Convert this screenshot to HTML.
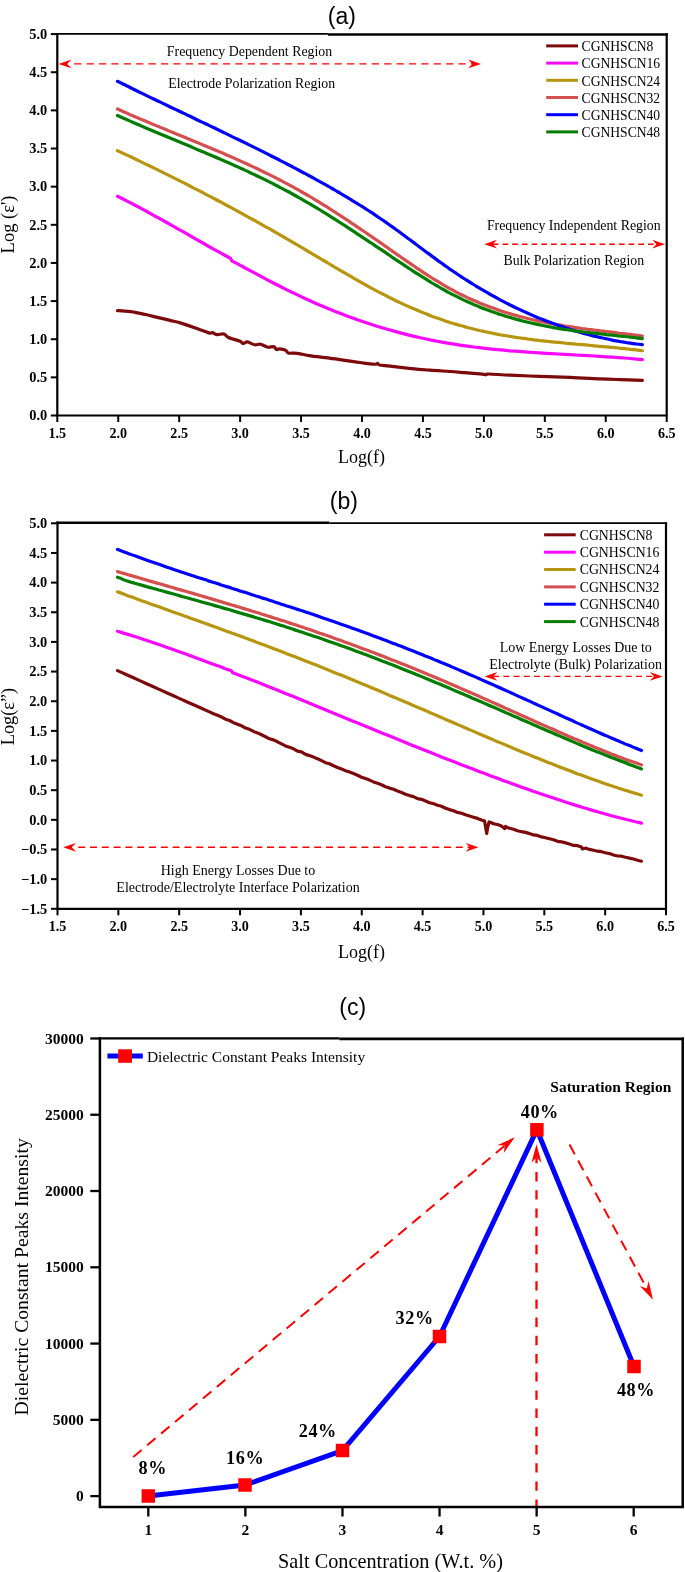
<!DOCTYPE html>
<html><head><meta charset="utf-8"><title>Dielectric plots</title>
<style>html,body{margin:0;padding:0;background:#fff;}svg{display:block;will-change:transform;}text{fill:#000;}</style>
</head><body>
<svg width="685" height="1572" viewBox="0 0 685 1572">
<rect x="0" y="0" width="685" height="1572" fill="#ffffff"/>
<g id="chart-a">
<text x="341.8" y="23.8" font-family='"Liberation Sans", sans-serif' font-size="23" text-anchor="middle">(a)</text>
<path d="M117.5,310.7 C118.2,310.7 119.1,310.6 122.0,310.9 C124.9,311.2 130.8,311.6 135.0,312.3 C139.2,313.0 143.1,313.9 147.0,314.8 C150.9,315.7 154.6,316.7 158.4,317.6 C162.2,318.5 166.1,319.4 170.0,320.4 C173.9,321.4 176.9,321.9 181.8,323.4 C186.7,324.9 194.7,327.8 199.3,329.4 C203.9,331.0 207.3,332.6 209.5,333.1 C211.7,333.6 211.2,332.4 212.4,332.6 C213.6,332.9 214.9,334.4 216.8,334.6 C218.8,334.8 222.2,333.5 224.1,334.0 C226.0,334.5 225.8,336.3 228.5,337.5 C231.2,338.7 237.7,340.3 240.1,341.3 C242.5,342.3 241.8,343.3 243.0,343.4 C244.2,343.5 245.5,341.7 247.4,341.9 C249.3,342.1 252.5,344.4 254.7,344.8 C256.9,345.2 258.4,343.8 260.6,344.2 C262.8,344.6 265.7,346.8 267.9,347.2 C270.1,347.6 272.2,346.2 273.7,346.6 C275.1,347.0 275.6,349.1 276.6,349.5 C277.6,349.9 278.1,348.8 279.6,348.9 C281.1,349.0 283.9,349.4 285.4,350.1 C286.8,350.8 286.9,352.5 288.3,353.0 C289.7,353.5 292.1,353.1 294.0,353.2 C295.9,353.3 297.5,353.4 300.0,353.8 C302.5,354.2 305.4,355.0 309.2,355.6 C313.0,356.2 318.1,356.8 323.0,357.4 C327.9,358.0 333.6,358.7 338.4,359.4 C343.2,360.1 348.4,360.9 352.0,361.4 C355.6,361.9 357.0,362.1 360.0,362.5 C363.0,362.9 367.3,363.6 370.0,363.9 C372.7,364.2 374.7,364.3 376.0,364.2 C377.3,364.1 377.0,363.3 377.6,363.4 C378.2,363.5 377.3,364.5 379.4,365.0 C381.5,365.5 384.7,365.6 390.0,366.2 C395.3,366.8 404.7,367.9 411.4,368.6 C418.1,369.3 423.6,369.7 430.0,370.2 C436.4,370.7 444.2,371.1 450.0,371.5 C455.8,371.9 460.0,372.3 465.0,372.7 C470.0,373.1 476.5,373.5 480.0,373.8 C483.5,374.1 484.5,374.6 486.0,374.6 C487.5,374.6 485.0,373.9 489.0,374.0 C493.0,374.1 501.5,374.8 510.0,375.2 C518.5,375.6 530.0,376.0 540.0,376.4 C550.0,376.8 560.0,377.0 570.0,377.4 C580.0,377.8 591.7,378.5 600.0,378.9 C608.3,379.3 612.9,379.4 620.0,379.6 C627.1,379.8 638.7,380.2 642.4,380.3" fill="none" stroke="#7d0a0a" stroke-width="3.2" stroke-linecap="round" stroke-linejoin="round"/>
<path d="M117.5,196.3 L123.5,199.3 L129.6,202.4 L135.6,205.5 L141.6,208.7 L147.7,212.0 L153.7,215.3 L159.7,218.6 L165.8,222.0 L171.8,225.4 L177.8,228.8 L183.9,232.2 L189.9,235.7 L195.9,239.1 L202.0,242.5 L208.0,246.0 L214.0,249.3 L220.1,252.7 L226.1,256.0 L229.8,258.0 L230.6,258.4 L231.6,260.7 L232.6,261.3 L238.2,264.2 L244.2,267.5 L250.2,270.7 L256.3,273.9 L262.3,277.1 L268.3,280.3 L274.4,283.5 L280.4,286.5 L286.4,289.6 L292.5,292.5 L298.5,295.4 L304.5,298.3 L310.6,301.0 L316.6,303.7 L322.6,306.3 L328.7,308.8 L334.7,311.2 L340.7,313.6 L346.8,315.9 L352.8,318.1 L358.8,320.2 L364.9,322.3 L370.9,324.2 L376.9,326.2 L383.0,328.0 L389.0,329.7 L395.0,331.4 L401.1,333.1 L407.1,334.6 L413.1,336.1 L419.2,337.5 L425.2,338.8 L431.2,340.1 L437.3,341.3 L443.3,342.4 L449.3,343.4 L455.4,344.4 L461.4,345.3 L467.4,346.2 L473.5,347.0 L479.5,347.7 L485.5,348.4 L491.6,349.1 L497.6,349.7 L503.6,350.2 L509.7,350.8 L515.7,351.2 L521.7,351.7 L527.8,352.1 L533.8,352.5 L539.8,352.9 L545.9,353.3 L551.9,353.6 L557.9,354.0 L564.0,354.3 L570.0,354.6 L576.0,355.0 L582.1,355.3 L588.1,355.6 L594.1,356.0 L600.2,356.4 L606.2,356.8 L612.2,357.2 L618.3,357.6 L624.3,358.0 L630.3,358.5 L636.4,359.1 L642.4,359.6" fill="none" stroke="#f808fc" stroke-width="3.2" stroke-linecap="round" stroke-linejoin="round"/>
<path d="M117.5,150.7 C118.5,151.1 121.5,152.5 123.5,153.5 C125.5,154.4 127.6,155.4 129.6,156.3 C131.6,157.3 133.6,158.2 135.6,159.2 C137.6,160.2 139.6,161.1 141.6,162.1 C143.6,163.0 145.7,164.0 147.7,165.0 C149.7,166.0 151.7,166.9 153.7,167.9 C155.7,168.9 157.7,169.9 159.7,170.9 C161.7,171.9 163.8,172.9 165.8,173.9 C167.8,174.9 169.8,175.9 171.8,176.9 C173.8,177.9 175.8,178.9 177.8,179.9 C179.8,180.9 181.9,181.9 183.9,182.9 C185.9,184.0 187.9,185.0 189.9,186.0 C191.9,187.0 193.9,188.1 195.9,189.1 C197.9,190.1 200.0,191.2 202.0,192.2 C204.0,193.3 206.0,194.3 208.0,195.4 C210.0,196.4 212.0,197.5 214.0,198.5 C216.0,199.6 218.1,200.7 220.1,201.7 C222.1,202.8 224.1,203.9 226.1,205.0 C228.1,206.0 230.1,207.1 232.1,208.2 C234.1,209.3 236.2,210.4 238.2,211.5 C240.2,212.6 242.2,213.7 244.2,214.8 C246.2,215.9 248.2,217.0 250.2,218.1 C252.2,219.2 254.3,220.3 256.3,221.4 C258.3,222.6 260.3,223.7 262.3,224.8 C264.3,226.0 266.3,227.1 268.3,228.2 C270.3,229.4 272.4,230.5 274.4,231.6 C276.4,232.8 278.4,233.9 280.4,235.1 C282.4,236.3 284.4,237.4 286.4,238.6 C288.4,239.7 290.5,240.9 292.5,242.1 C294.5,243.3 296.5,244.4 298.5,245.6 C300.5,246.8 302.5,248.0 304.5,249.2 C306.5,250.4 308.6,251.6 310.6,252.8 C312.6,254.0 314.6,255.2 316.6,256.4 C318.6,257.6 320.6,258.8 322.6,260.0 C324.6,261.1 326.7,262.3 328.7,263.5 C330.7,264.7 332.7,265.9 334.7,267.1 C336.7,268.3 338.7,269.5 340.7,270.7 C342.7,271.9 344.8,273.0 346.8,274.2 C348.8,275.4 350.8,276.5 352.8,277.7 C354.8,278.8 356.8,280.0 358.8,281.1 C360.8,282.3 362.9,283.4 364.9,284.5 C366.9,285.6 368.9,286.7 370.9,287.8 C372.9,288.9 374.9,290.0 376.9,291.1 C378.9,292.1 381.0,293.2 383.0,294.2 C385.0,295.3 387.0,296.3 389.0,297.3 C391.0,298.3 393.0,299.3 395.0,300.3 C397.0,301.3 399.1,302.2 401.1,303.1 C403.1,304.1 405.1,305.0 407.1,305.9 C409.1,306.8 411.1,307.7 413.1,308.6 C415.1,309.4 417.2,310.3 419.2,311.1 C421.2,312.0 423.2,312.8 425.2,313.6 C427.2,314.4 429.2,315.2 431.2,315.9 C433.2,316.7 435.3,317.4 437.3,318.1 C439.3,318.8 441.3,319.6 443.3,320.2 C445.3,320.9 447.3,321.6 449.3,322.2 C451.3,322.9 453.4,323.5 455.4,324.1 C457.4,324.7 459.4,325.3 461.4,325.8 C463.4,326.4 465.4,326.9 467.4,327.5 C469.4,328.0 471.5,328.5 473.5,329.0 C475.5,329.5 477.5,330.0 479.5,330.5 C481.5,330.9 483.5,331.4 485.5,331.8 C487.5,332.2 489.6,332.6 491.6,333.0 C493.6,333.5 495.6,333.8 497.6,334.2 C499.6,334.6 501.6,335.0 503.6,335.3 C505.6,335.7 507.7,336.0 509.7,336.3 C511.7,336.7 513.7,337.0 515.7,337.3 C517.7,337.6 519.7,337.9 521.7,338.2 C523.7,338.4 525.8,338.7 527.8,339.0 C529.8,339.3 531.8,339.5 533.8,339.8 C535.8,340.0 537.8,340.3 539.8,340.5 C541.8,340.7 543.9,341.0 545.9,341.2 C547.9,341.4 549.9,341.6 551.9,341.8 C553.9,342.0 555.9,342.2 557.9,342.4 C559.9,342.6 562.0,342.8 564.0,343.0 C566.0,343.2 568.0,343.4 570.0,343.6 C572.0,343.8 574.0,344.0 576.0,344.2 C578.0,344.3 580.1,344.5 582.1,344.7 C584.1,344.9 586.1,345.1 588.1,345.2 C590.1,345.4 592.1,345.6 594.1,345.8 C596.1,346.0 598.2,346.1 600.2,346.3 C602.2,346.5 604.2,346.7 606.2,346.9 C608.2,347.1 610.2,347.2 612.2,347.4 C614.2,347.6 616.3,347.8 618.3,348.0 C620.3,348.2 622.3,348.4 624.3,348.6 C626.3,348.8 628.3,349.0 630.3,349.3 C632.3,349.5 634.4,349.7 636.4,349.9 C638.4,350.2 641.4,350.5 642.4,350.7" fill="none" stroke="#b7950f" stroke-width="3.2" stroke-linecap="round" stroke-linejoin="round"/>
<path d="M117.5,109.0 C118.5,109.5 121.5,110.8 123.5,111.7 C125.5,112.6 127.6,113.5 129.6,114.4 C131.6,115.2 133.6,116.1 135.6,117.0 C137.6,117.8 139.6,118.7 141.6,119.6 C143.6,120.4 145.7,121.3 147.7,122.1 C149.7,122.9 151.7,123.8 153.7,124.6 C155.7,125.5 157.7,126.3 159.7,127.1 C161.7,128.0 163.8,128.8 165.8,129.6 C167.8,130.4 169.8,131.3 171.8,132.1 C173.8,132.9 175.8,133.7 177.8,134.6 C179.8,135.4 181.9,136.2 183.9,137.0 C185.9,137.8 187.9,138.7 189.9,139.5 C191.9,140.3 193.9,141.1 195.9,142.0 C197.9,142.8 200.0,143.6 202.0,144.5 C204.0,145.3 206.0,146.1 208.0,147.0 C210.0,147.8 212.0,148.7 214.0,149.5 C216.0,150.4 218.1,151.2 220.1,152.1 C222.1,152.9 224.1,153.8 226.1,154.7 C228.1,155.5 230.1,156.4 232.1,157.3 C234.1,158.2 236.2,159.1 238.2,160.0 C240.2,160.9 242.2,161.8 244.2,162.7 C246.2,163.6 248.2,164.5 250.2,165.5 C252.2,166.4 254.3,167.3 256.3,168.3 C258.3,169.2 260.3,170.2 262.3,171.2 C264.3,172.1 266.3,173.1 268.3,174.1 C270.3,175.1 272.4,176.1 274.4,177.1 C276.4,178.2 278.4,179.2 280.4,180.2 C282.4,181.3 284.4,182.3 286.4,183.4 C288.4,184.5 290.5,185.6 292.5,186.7 C294.5,187.8 296.5,188.9 298.5,190.0 C300.5,191.2 302.5,192.3 304.5,193.5 C306.5,194.6 308.6,195.8 310.6,197.0 C312.6,198.2 314.6,199.4 316.6,200.6 C318.6,201.9 320.6,203.1 322.6,204.3 C324.6,205.6 326.7,206.8 328.7,208.1 C330.7,209.4 332.7,210.7 334.7,212.0 C336.7,213.3 338.7,214.6 340.7,215.9 C342.7,217.2 344.8,218.5 346.8,219.8 C348.8,221.2 350.8,222.5 352.8,223.9 C354.8,225.2 356.8,226.6 358.8,227.9 C360.8,229.3 362.9,230.7 364.9,232.0 C366.9,233.4 368.9,234.8 370.9,236.2 C372.9,237.5 374.9,238.9 376.9,240.3 C378.9,241.7 381.0,243.1 383.0,244.5 C385.0,245.9 387.0,247.3 389.0,248.7 C391.0,250.1 393.0,251.6 395.0,253.0 C397.0,254.4 399.1,255.8 401.1,257.2 C403.1,258.6 405.1,260.0 407.1,261.4 C409.1,262.8 411.1,264.1 413.1,265.5 C415.1,266.9 417.2,268.2 419.2,269.6 C421.2,270.9 423.2,272.3 425.2,273.6 C427.2,274.9 429.2,276.2 431.2,277.5 C433.2,278.7 435.3,280.0 437.3,281.2 C439.3,282.5 441.3,283.7 443.3,284.9 C445.3,286.0 447.3,287.2 449.3,288.3 C451.3,289.4 453.4,290.5 455.4,291.6 C457.4,292.6 459.4,293.7 461.4,294.7 C463.4,295.7 465.4,296.6 467.4,297.6 C469.4,298.5 471.5,299.4 473.5,300.3 C475.5,301.2 477.5,302.1 479.5,302.9 C481.5,303.7 483.5,304.5 485.5,305.3 C487.5,306.1 489.6,306.9 491.6,307.6 C493.6,308.3 495.6,309.1 497.6,309.7 C499.6,310.4 501.6,311.1 503.6,311.7 C505.6,312.4 507.7,313.0 509.7,313.6 C511.7,314.2 513.7,314.8 515.7,315.4 C517.7,315.9 519.7,316.5 521.7,317.0 C523.7,317.5 525.8,318.0 527.8,318.5 C529.8,319.0 531.8,319.5 533.8,320.0 C535.8,320.4 537.8,320.9 539.8,321.3 C541.8,321.7 543.9,322.1 545.9,322.5 C547.9,322.9 549.9,323.3 551.9,323.7 C553.9,324.1 555.9,324.4 557.9,324.8 C559.9,325.1 562.0,325.4 564.0,325.8 C566.0,326.1 568.0,326.4 570.0,326.7 C572.0,327.0 574.0,327.3 576.0,327.6 C578.0,327.9 580.1,328.2 582.1,328.5 C584.1,328.7 586.1,329.0 588.1,329.3 C590.1,329.5 592.1,329.8 594.1,330.0 C596.1,330.3 598.2,330.5 600.2,330.8 C602.2,331.0 604.2,331.3 606.2,331.5 C608.2,331.8 610.2,332.0 612.2,332.2 C614.2,332.5 616.3,332.7 618.3,333.0 C620.3,333.2 622.3,333.4 624.3,333.7 C626.3,333.9 628.3,334.2 630.3,334.4 C632.3,334.7 634.4,334.9 636.4,335.2 C638.4,335.4 641.4,335.8 642.4,336.0" fill="none" stroke="#d4504f" stroke-width="3.2" stroke-linecap="round" stroke-linejoin="round"/>
<path d="M117.5,81.3 C118.5,81.8 121.5,83.3 123.5,84.3 C125.5,85.3 127.6,86.2 129.6,87.2 C131.6,88.2 133.6,89.2 135.6,90.2 C137.6,91.2 139.6,92.2 141.6,93.1 C143.6,94.1 145.7,95.1 147.7,96.1 C149.7,97.0 151.7,98.0 153.7,99.0 C155.7,100.0 157.7,100.9 159.7,101.9 C161.7,102.9 163.8,103.8 165.8,104.8 C167.8,105.7 169.8,106.7 171.8,107.7 C173.8,108.6 175.8,109.6 177.8,110.5 C179.8,111.5 181.9,112.5 183.9,113.4 C185.9,114.4 187.9,115.3 189.9,116.3 C191.9,117.3 193.9,118.2 195.9,119.2 C197.9,120.1 200.0,121.1 202.0,122.1 C204.0,123.0 206.0,124.0 208.0,124.9 C210.0,125.9 212.0,126.9 214.0,127.8 C216.0,128.8 218.1,129.8 220.1,130.7 C222.1,131.7 224.1,132.7 226.1,133.6 C228.1,134.6 230.1,135.6 232.1,136.6 C234.1,137.5 236.2,138.5 238.2,139.5 C240.2,140.5 242.2,141.4 244.2,142.4 C246.2,143.4 248.2,144.4 250.2,145.4 C252.2,146.4 254.3,147.4 256.3,148.4 C258.3,149.4 260.3,150.4 262.3,151.4 C264.3,152.4 266.3,153.4 268.3,154.4 C270.3,155.4 272.4,156.5 274.4,157.5 C276.4,158.5 278.4,159.5 280.4,160.6 C282.4,161.6 284.4,162.6 286.4,163.7 C288.4,164.7 290.5,165.8 292.5,166.8 C294.5,167.9 296.5,168.9 298.5,170.0 C300.5,171.1 302.5,172.2 304.5,173.2 C306.5,174.3 308.6,175.4 310.6,176.5 C312.6,177.6 314.6,178.7 316.6,179.8 C318.6,180.9 320.6,182.0 322.6,183.1 C324.6,184.3 326.7,185.4 328.7,186.5 C330.7,187.7 332.7,188.8 334.7,190.0 C336.7,191.2 338.7,192.3 340.7,193.5 C342.7,194.7 344.8,195.9 346.8,197.1 C348.8,198.3 350.8,199.5 352.8,200.8 C354.8,202.0 356.8,203.2 358.8,204.5 C360.8,205.8 362.9,207.0 364.9,208.3 C366.9,209.6 368.9,210.9 370.9,212.2 C372.9,213.5 374.9,214.9 376.9,216.2 C378.9,217.6 381.0,218.9 383.0,220.3 C385.0,221.7 387.0,223.1 389.0,224.5 C391.0,225.9 393.0,227.4 395.0,228.8 C397.0,230.3 399.1,231.7 401.1,233.2 C403.1,234.7 405.1,236.2 407.1,237.7 C409.1,239.1 411.1,240.6 413.1,242.1 C415.1,243.6 417.2,245.1 419.2,246.7 C421.2,248.2 423.2,249.7 425.2,251.2 C427.2,252.7 429.2,254.1 431.2,255.6 C433.2,257.1 435.3,258.6 437.3,260.1 C439.3,261.5 441.3,263.0 443.3,264.4 C445.3,265.8 447.3,267.3 449.3,268.7 C451.3,270.1 453.4,271.4 455.4,272.8 C457.4,274.2 459.4,275.5 461.4,276.8 C463.4,278.1 465.4,279.4 467.4,280.7 C469.4,282.0 471.5,283.3 473.5,284.5 C475.5,285.7 477.5,287.0 479.5,288.2 C481.5,289.4 483.5,290.5 485.5,291.7 C487.5,292.9 489.6,294.0 491.6,295.1 C493.6,296.2 495.6,297.3 497.6,298.4 C499.6,299.5 501.6,300.6 503.6,301.6 C505.6,302.7 507.7,303.7 509.7,304.7 C511.7,305.7 513.7,306.7 515.7,307.7 C517.7,308.6 519.7,309.6 521.7,310.5 C523.7,311.4 525.8,312.3 527.8,313.2 C529.8,314.1 531.8,315.0 533.8,315.9 C535.8,316.7 537.8,317.5 539.8,318.4 C541.8,319.2 543.9,320.0 545.9,320.8 C547.9,321.5 549.9,322.3 551.9,323.1 C553.9,323.8 555.9,324.5 557.9,325.2 C559.9,325.9 562.0,326.6 564.0,327.3 C566.0,328.0 568.0,328.6 570.0,329.3 C572.0,329.9 574.0,330.5 576.0,331.1 C578.0,331.7 580.1,332.3 582.1,332.9 C584.1,333.5 586.1,334.0 588.1,334.5 C590.1,335.1 592.1,335.6 594.1,336.1 C596.1,336.6 598.2,337.0 600.2,337.5 C602.2,338.0 604.2,338.4 606.2,338.8 C608.2,339.3 610.2,339.7 612.2,340.1 C614.2,340.5 616.3,340.9 618.3,341.2 C620.3,341.6 622.3,341.9 624.3,342.2 C626.3,342.6 628.3,342.9 630.3,343.2 C632.3,343.5 634.4,343.7 636.4,344.0 C638.4,344.3 641.4,344.6 642.4,344.7" fill="none" stroke="#0000ff" stroke-width="3.2" stroke-linecap="round" stroke-linejoin="round"/>
<path d="M117.5,115.5 C118.5,115.9 121.5,117.3 123.5,118.2 C125.5,119.1 127.6,120.0 129.6,120.9 C131.6,121.8 133.6,122.6 135.6,123.5 C137.6,124.4 139.6,125.2 141.6,126.1 C143.6,127.0 145.7,127.8 147.7,128.7 C149.7,129.5 151.7,130.4 153.7,131.2 C155.7,132.1 157.7,132.9 159.7,133.8 C161.7,134.6 163.8,135.5 165.8,136.3 C167.8,137.1 169.8,138.0 171.8,138.8 C173.8,139.7 175.8,140.5 177.8,141.3 C179.8,142.2 181.9,143.0 183.9,143.8 C185.9,144.7 187.9,145.5 189.9,146.3 C191.9,147.2 193.9,148.0 195.9,148.9 C197.9,149.7 200.0,150.6 202.0,151.4 C204.0,152.3 206.0,153.1 208.0,154.0 C210.0,154.8 212.0,155.7 214.0,156.5 C216.0,157.4 218.1,158.3 220.1,159.1 C222.1,160.0 224.1,160.9 226.1,161.8 C228.1,162.6 230.1,163.5 232.1,164.4 C234.1,165.3 236.2,166.2 238.2,167.1 C240.2,168.0 242.2,169.0 244.2,169.9 C246.2,170.8 248.2,171.7 250.2,172.7 C252.2,173.6 254.3,174.6 256.3,175.5 C258.3,176.5 260.3,177.5 262.3,178.4 C264.3,179.4 266.3,180.4 268.3,181.4 C270.3,182.4 272.4,183.4 274.4,184.5 C276.4,185.5 278.4,186.5 280.4,187.6 C282.4,188.6 284.4,189.7 286.4,190.8 C288.4,191.8 290.5,192.9 292.5,194.0 C294.5,195.1 296.5,196.2 298.5,197.4 C300.5,198.5 302.5,199.6 304.5,200.8 C306.5,202.0 308.6,203.1 310.6,204.3 C312.6,205.5 314.6,206.7 316.6,207.9 C318.6,209.1 320.6,210.4 322.6,211.6 C324.6,212.8 326.7,214.1 328.7,215.3 C330.7,216.6 332.7,217.9 334.7,219.1 C336.7,220.4 338.7,221.7 340.7,223.0 C342.7,224.3 344.8,225.6 346.8,226.9 C348.8,228.2 350.8,229.5 352.8,230.8 C354.8,232.1 356.8,233.5 358.8,234.8 C360.8,236.1 362.9,237.5 364.9,238.8 C366.9,240.1 368.9,241.5 370.9,242.8 C372.9,244.2 374.9,245.5 376.9,246.9 C378.9,248.2 381.0,249.6 383.0,250.9 C385.0,252.3 387.0,253.6 389.0,255.0 C391.0,256.4 393.0,257.7 395.0,259.1 C397.0,260.4 399.1,261.8 401.1,263.1 C403.1,264.4 405.1,265.8 407.1,267.1 C409.1,268.4 411.1,269.7 413.1,271.1 C415.1,272.4 417.2,273.7 419.2,274.9 C421.2,276.2 423.2,277.5 425.2,278.7 C427.2,280.0 429.2,281.2 431.2,282.5 C433.2,283.7 435.3,284.9 437.3,286.0 C439.3,287.2 441.3,288.4 443.3,289.5 C445.3,290.6 447.3,291.7 449.3,292.8 C451.3,293.9 453.4,294.9 455.4,295.9 C457.4,296.9 459.4,297.9 461.4,298.9 C463.4,299.9 465.4,300.8 467.4,301.7 C469.4,302.6 471.5,303.5 473.5,304.4 C475.5,305.2 477.5,306.1 479.5,306.9 C481.5,307.7 483.5,308.5 485.5,309.2 C487.5,310.0 489.6,310.7 491.6,311.5 C493.6,312.2 495.6,312.9 497.6,313.6 C499.6,314.2 501.6,314.9 503.6,315.5 C505.6,316.2 507.7,316.8 509.7,317.4 C511.7,318.0 513.7,318.5 515.7,319.1 C517.7,319.6 519.7,320.2 521.7,320.7 C523.7,321.2 525.8,321.7 527.8,322.2 C529.8,322.7 531.8,323.2 533.8,323.6 C535.8,324.1 537.8,324.5 539.8,324.9 C541.8,325.3 543.9,325.7 545.9,326.1 C547.9,326.5 549.9,326.9 551.9,327.3 C553.9,327.6 555.9,328.0 557.9,328.3 C559.9,328.6 562.0,329.0 564.0,329.3 C566.0,329.6 568.0,329.9 570.0,330.2 C572.0,330.5 574.0,330.7 576.0,331.0 C578.0,331.3 580.1,331.5 582.1,331.8 C584.1,332.1 586.1,332.3 588.1,332.5 C590.1,332.8 592.1,333.0 594.1,333.2 C596.1,333.5 598.2,333.7 600.2,333.9 C602.2,334.1 604.2,334.3 606.2,334.6 C608.2,334.8 610.2,335.0 612.2,335.2 C614.2,335.4 616.3,335.6 618.3,335.8 C620.3,336.1 622.3,336.3 624.3,336.5 C626.3,336.7 628.3,336.9 630.3,337.2 C632.3,337.4 634.4,337.6 636.4,337.9 C638.4,338.1 641.4,338.5 642.4,338.6" fill="none" stroke="#007d00" stroke-width="3.2" stroke-linecap="round" stroke-linejoin="round"/>
<path d="M57.3,32.95 L57.3,415.5 L666.7,415.5 L666.7,33.35" fill="none" stroke="#000" stroke-width="2.2" stroke-linejoin="miter"/>
<line x1="56.199999999999996" y1="33.9" x2="327.9" y2="33.9" stroke="#000" stroke-width="1.9"/>
<line x1="327.9" y1="34.5" x2="667.8000000000001" y2="34.5" stroke="#000" stroke-width="2.3"/>
<line x1="50.8" y1="415.50" x2="57.3" y2="415.50" stroke="#000" stroke-width="2.0"/>
<text x="47.3" y="420.3" font-family='"Liberation Serif", serif' font-size="14.4" text-anchor="end" font-weight="bold">0.0</text>
<line x1="50.8" y1="377.36" x2="57.3" y2="377.36" stroke="#000" stroke-width="2.0"/>
<text x="47.3" y="382.16" font-family='"Liberation Serif", serif' font-size="14.4" text-anchor="end" font-weight="bold">0.5</text>
<line x1="50.8" y1="339.22" x2="57.3" y2="339.22" stroke="#000" stroke-width="2.0"/>
<text x="47.3" y="344.02" font-family='"Liberation Serif", serif' font-size="14.4" text-anchor="end" font-weight="bold">1.0</text>
<line x1="50.8" y1="301.08" x2="57.3" y2="301.08" stroke="#000" stroke-width="2.0"/>
<text x="47.3" y="305.88" font-family='"Liberation Serif", serif' font-size="14.4" text-anchor="end" font-weight="bold">1.5</text>
<line x1="50.8" y1="262.94" x2="57.3" y2="262.94" stroke="#000" stroke-width="2.0"/>
<text x="47.3" y="267.74" font-family='"Liberation Serif", serif' font-size="14.4" text-anchor="end" font-weight="bold">2.0</text>
<line x1="50.8" y1="224.80" x2="57.3" y2="224.80" stroke="#000" stroke-width="2.0"/>
<text x="47.3" y="229.6" font-family='"Liberation Serif", serif' font-size="14.4" text-anchor="end" font-weight="bold">2.5</text>
<line x1="50.8" y1="186.66" x2="57.3" y2="186.66" stroke="#000" stroke-width="2.0"/>
<text x="47.3" y="191.46" font-family='"Liberation Serif", serif' font-size="14.4" text-anchor="end" font-weight="bold">3.0</text>
<line x1="50.8" y1="148.52" x2="57.3" y2="148.52" stroke="#000" stroke-width="2.0"/>
<text x="47.3" y="153.32" font-family='"Liberation Serif", serif' font-size="14.4" text-anchor="end" font-weight="bold">3.5</text>
<line x1="50.8" y1="110.38" x2="57.3" y2="110.38" stroke="#000" stroke-width="2.0"/>
<text x="47.3" y="115.18" font-family='"Liberation Serif", serif' font-size="14.4" text-anchor="end" font-weight="bold">4.0</text>
<line x1="50.8" y1="72.24" x2="57.3" y2="72.24" stroke="#000" stroke-width="2.0"/>
<text x="47.3" y="77.04" font-family='"Liberation Serif", serif' font-size="14.4" text-anchor="end" font-weight="bold">4.5</text>
<line x1="50.8" y1="34.10" x2="57.3" y2="34.10" stroke="#000" stroke-width="2.0"/>
<text x="47.3" y="38.9" font-family='"Liberation Serif", serif' font-size="14.4" text-anchor="end" font-weight="bold">5.0</text>
<line x1="57.30" y1="415.5" x2="57.30" y2="422.0" stroke="#000" stroke-width="2.0"/>
<text x="57.3" y="437.7" font-family='"Liberation Serif", serif' font-size="14.1" text-anchor="middle" font-weight="bold">1.5</text>
<line x1="118.24" y1="415.5" x2="118.24" y2="422.0" stroke="#000" stroke-width="2.0"/>
<text x="118.24" y="437.7" font-family='"Liberation Serif", serif' font-size="14.1" text-anchor="middle" font-weight="bold">2.0</text>
<line x1="179.18" y1="415.5" x2="179.18" y2="422.0" stroke="#000" stroke-width="2.0"/>
<text x="179.18" y="437.7" font-family='"Liberation Serif", serif' font-size="14.1" text-anchor="middle" font-weight="bold">2.5</text>
<line x1="240.12" y1="415.5" x2="240.12" y2="422.0" stroke="#000" stroke-width="2.0"/>
<text x="240.12" y="437.7" font-family='"Liberation Serif", serif' font-size="14.1" text-anchor="middle" font-weight="bold">3.0</text>
<line x1="301.06" y1="415.5" x2="301.06" y2="422.0" stroke="#000" stroke-width="2.0"/>
<text x="301.06" y="437.7" font-family='"Liberation Serif", serif' font-size="14.1" text-anchor="middle" font-weight="bold">3.5</text>
<line x1="362.00" y1="415.5" x2="362.00" y2="422.0" stroke="#000" stroke-width="2.0"/>
<text x="362.0" y="437.7" font-family='"Liberation Serif", serif' font-size="14.1" text-anchor="middle" font-weight="bold">4.0</text>
<line x1="422.94" y1="415.5" x2="422.94" y2="422.0" stroke="#000" stroke-width="2.0"/>
<text x="422.94" y="437.7" font-family='"Liberation Serif", serif' font-size="14.1" text-anchor="middle" font-weight="bold">4.5</text>
<line x1="483.88" y1="415.5" x2="483.88" y2="422.0" stroke="#000" stroke-width="2.0"/>
<text x="483.88" y="437.7" font-family='"Liberation Serif", serif' font-size="14.1" text-anchor="middle" font-weight="bold">5.0</text>
<line x1="544.82" y1="415.5" x2="544.82" y2="422.0" stroke="#000" stroke-width="2.0"/>
<text x="544.82" y="437.7" font-family='"Liberation Serif", serif' font-size="14.1" text-anchor="middle" font-weight="bold">5.5</text>
<line x1="605.76" y1="415.5" x2="605.76" y2="422.0" stroke="#000" stroke-width="2.0"/>
<text x="605.76" y="437.7" font-family='"Liberation Serif", serif' font-size="14.1" text-anchor="middle" font-weight="bold">6.0</text>
<line x1="666.70" y1="415.5" x2="666.70" y2="422.0" stroke="#000" stroke-width="2.0"/>
<text x="666.7" y="437.7" font-family='"Liberation Serif", serif' font-size="14.1" text-anchor="middle" font-weight="bold">6.5</text>
<text x="13.9" y="224.5" font-family='"Liberation Serif", serif' font-size="18.5" text-anchor="middle" transform="rotate(-90 13.9 224.5)">Log (ε')</text>
<text x="361.5" y="463.4" font-family='"Liberation Serif", serif' font-size="18" text-anchor="middle">Log(f)</text>
<line x1="546.2" y1="45.9" x2="578" y2="45.9" stroke="#7d0a0a" stroke-width="3"/>
<text x="581.6" y="51.1" font-family='"Liberation Serif", serif' font-size="13.6" text-anchor="start">CGNHSCN8</text>
<line x1="546.2" y1="63.1" x2="578" y2="63.1" stroke="#f808fc" stroke-width="3"/>
<text x="581.6" y="68.3" font-family='"Liberation Serif", serif' font-size="13.6" text-anchor="start">CGNHSCN16</text>
<line x1="546.2" y1="80.3" x2="578" y2="80.3" stroke="#b7950f" stroke-width="3"/>
<text x="581.6" y="85.5" font-family='"Liberation Serif", serif' font-size="13.6" text-anchor="start">CGNHSCN24</text>
<line x1="546.2" y1="97.5" x2="578" y2="97.5" stroke="#d4504f" stroke-width="3"/>
<text x="581.6" y="102.7" font-family='"Liberation Serif", serif' font-size="13.6" text-anchor="start">CGNHSCN32</text>
<line x1="546.2" y1="114.7" x2="578" y2="114.7" stroke="#0000ff" stroke-width="3"/>
<text x="581.6" y="119.9" font-family='"Liberation Serif", serif' font-size="13.6" text-anchor="start">CGNHSCN40</text>
<line x1="546.2" y1="131.9" x2="578" y2="131.9" stroke="#007d00" stroke-width="3"/>
<text x="581.6" y="137.1" font-family='"Liberation Serif", serif' font-size="13.6" text-anchor="start">CGNHSCN48</text>
<text x="249.5" y="56" font-family='"Liberation Serif", serif' font-size="13.85" text-anchor="middle">Frequency Dependent Region</text>
<text x="251.7" y="87.5" font-family='"Liberation Serif", serif' font-size="13.85" text-anchor="middle">Electrode Polarization Region</text>
<line x1="74.1" y1="63.9" x2="472.4" y2="63.9" stroke="#ff0000" stroke-width="1.4" stroke-dasharray="7.3 5.1" stroke-dashoffset="0"/>
<polygon points="58.6,63.9 71.4,59.5 67.2,63.9 71.4,68.3" fill="#ff0000"/>
<polygon points="481.0,63.9 468.2,68.3 472.4,63.9 468.2,59.5" fill="#ff0000"/>
<text x="573.8" y="229.6" font-family='"Liberation Serif", serif' font-size="13.85" text-anchor="middle">Frequency Independent Region</text>
<text x="573.8" y="265.0" font-family='"Liberation Serif", serif' font-size="13.85" text-anchor="middle">Bulk Polarization Region</text>
<line x1="492.8" y1="244.2" x2="656.4" y2="244.2" stroke="#ff0000" stroke-width="1.4" stroke-dasharray="5.7 4.0" stroke-dashoffset="0"/>
<polygon points="484.2,244.2 497.0,239.8 492.8,244.2 497.0,248.6" fill="#ff0000"/>
<polygon points="665.0,244.2 652.2,248.6 656.4,244.2 652.2,239.8" fill="#ff0000"/>
</g>
<g id="chart-b">
<text x="343.9" y="508.9" font-family='"Liberation Sans", sans-serif' font-size="23" text-anchor="middle">(b)</text>
<path d="M117.5,670.6 L121.5,672.4 L125.5,674.2 L129.5,676.0 L133.5,677.8 L137.5,679.6 L141.5,681.4 L145.5,683.2 L149.5,685.0 L153.5,686.8 L157.5,688.6 L161.5,690.4 L165.5,692.2 L169.5,694.0 L173.5,695.8 L177.5,697.6 L181.5,699.4 L185.5,701.2 L189.5,703.0 L193.5,704.7 L197.5,706.5 L201.5,708.3 L205.5,710.1 L209.5,711.9 L213.5,713.7 L217.5,715.3 L221.5,717.0 L225.5,719.2 L229.5,720.5 L233.5,722.7 L237.5,724.3 L241.5,725.8 L245.5,728.0 L249.5,729.3 L253.5,731.4 L257.5,732.9 L261.5,734.7 L265.5,736.7 L269.5,738.8 L273.5,739.9 L277.5,741.8 L281.5,743.9 L285.5,745.9 L289.5,747.3 L293.5,748.8 L297.5,751.1 L301.5,751.9 L305.5,754.4 L309.5,755.6 L313.5,757.1 L317.5,758.8 L321.5,760.6 L325.5,762.7 L329.5,763.8 L333.5,765.8 L337.5,767.5 L341.5,768.9 L345.5,770.7 L349.5,771.9 L353.5,773.5 L357.5,775.2 L361.5,777.2 L365.5,778.6 L369.5,780.1 L373.5,781.9 L377.5,783.3 L381.5,784.7 L385.5,786.7 L389.5,788.1 L393.5,789.2 L397.5,791.0 L401.5,792.5 L405.5,794.2 L409.5,795.6 L413.5,796.6 L417.5,798.7 L421.5,799.3 L425.5,801.0 L429.5,802.7 L433.5,803.6 L437.5,805.3 L441.5,806.2 L445.5,808.2 L449.5,809.6 L453.5,810.8 L457.5,812.4 L461.5,813.2 L465.5,814.8 L469.5,816.0 L473.5,817.2 L477.5,818.4 L481.5,820.0 L482.8,820.4 L484.6,821.0 L485.6,827.0 L486.7,833.4 L487.8,827.0 L489.1,822.0 L491.0,822.5 L493.5,823.7 L497.5,824.5 L501.5,825.9 L503.0,827.3 L504.8,828.6 L505.5,826.5 L507.2,827.4 L509.5,828.2 L513.5,829.3 L517.5,830.8 L521.5,831.7 L525.5,832.4 L529.5,833.6 L533.5,834.9 L537.5,835.4 L541.5,836.9 L545.5,837.7 L549.5,838.7 L553.5,839.7 L557.5,841.3 L561.5,841.8 L565.5,842.9 L569.5,844.0 L573.5,845.4 L577.5,845.7 L581.5,847.0 L582.3,848.9 L585.2,848.2 L585.5,848.1 L589.5,849.4 L593.5,850.3 L597.5,851.2 L601.5,851.7 L605.5,852.7 L609.5,853.6 L613.5,855.0 L617.5,856.0 L621.5,856.2 L625.5,857.2 L629.5,858.1 L633.5,859.0 L637.5,860.2 L641.5,861.2" fill="none" stroke="#7d0a0a" stroke-width="3.2" stroke-linecap="round" stroke-linejoin="round"/>
<path d="M117.5,631.3 L123.5,633.1 L129.5,634.9 L135.6,636.8 L141.6,638.7 L147.6,640.7 L153.6,642.7 L159.7,644.8 L165.7,646.9 L171.7,649.0 L177.7,651.2 L183.8,653.3 L189.8,655.5 L195.8,657.7 L201.8,660.0 L207.8,662.2 L213.9,664.4 L219.9,666.6 L225.9,668.9 L230.8,670.6 L231.6,670.9 L232.6,672.8 L233.6,673.1 L238.0,674.7 L244.0,677.0 L250.0,679.3 L256.0,681.6 L262.1,684.0 L268.1,686.4 L274.1,688.8 L280.1,691.2 L286.1,693.7 L292.2,696.1 L298.2,698.6 L304.2,701.1 L310.2,703.5 L316.3,706.0 L322.3,708.5 L328.3,711.0 L334.3,713.4 L340.4,715.9 L346.4,718.4 L352.4,720.9 L358.4,723.3 L364.4,725.8 L370.5,728.3 L376.5,730.7 L382.5,733.2 L388.5,735.6 L394.6,738.1 L400.6,740.5 L406.6,743.0 L412.6,745.4 L418.6,747.8 L424.7,750.2 L430.7,752.6 L436.7,755.0 L442.7,757.4 L448.8,759.7 L454.8,762.1 L460.8,764.4 L466.8,766.7 L472.9,769.1 L478.9,771.4 L484.9,773.6 L490.9,775.9 L496.9,778.1 L503.0,780.4 L509.0,782.6 L515.0,784.7 L521.0,786.9 L527.1,789.0 L533.1,791.2 L539.1,793.2 L545.1,795.3 L551.2,797.3 L557.2,799.3 L563.2,801.3 L569.2,803.2 L575.2,805.1 L581.3,807.0 L587.3,808.8 L593.3,810.6 L599.3,812.3 L605.4,814.0 L611.4,815.7 L617.4,817.3 L623.4,818.8 L629.5,820.3 L635.5,821.8 L641.5,823.1" fill="none" stroke="#f808fc" stroke-width="3.2" stroke-linecap="round" stroke-linejoin="round"/>
<path d="M117.5,591.9 C118.5,592.2 121.5,593.3 123.5,594.1 C125.5,594.8 127.5,595.6 129.5,596.3 C131.6,597.0 133.6,597.8 135.6,598.5 C137.6,599.2 139.6,599.9 141.6,600.7 C143.6,601.4 145.6,602.1 147.6,602.8 C149.6,603.5 151.6,604.3 153.6,605.0 C155.6,605.7 157.7,606.4 159.7,607.1 C161.7,607.9 163.7,608.6 165.7,609.3 C167.7,610.0 169.7,610.7 171.7,611.4 C173.7,612.1 175.7,612.9 177.7,613.6 C179.7,614.3 181.7,615.0 183.8,615.7 C185.8,616.4 187.8,617.2 189.8,617.9 C191.8,618.6 193.8,619.3 195.8,620.0 C197.8,620.7 199.8,621.5 201.8,622.2 C203.8,622.9 205.8,623.6 207.8,624.3 C209.9,625.1 211.9,625.8 213.9,626.5 C215.9,627.2 217.9,628.0 219.9,628.7 C221.9,629.4 223.9,630.1 225.9,630.9 C227.9,631.6 229.9,632.3 231.9,633.1 C233.9,633.8 236.0,634.5 238.0,635.3 C240.0,636.0 242.0,636.7 244.0,637.5 C246.0,638.2 248.0,639.0 250.0,639.7 C252.0,640.5 254.0,641.2 256.0,642.0 C258.0,642.7 260.0,643.5 262.1,644.2 C264.1,645.0 266.1,645.7 268.1,646.5 C270.1,647.2 272.1,648.0 274.1,648.8 C276.1,649.5 278.1,650.3 280.1,651.1 C282.1,651.8 284.1,652.6 286.1,653.4 C288.2,654.1 290.2,654.9 292.2,655.7 C294.2,656.5 296.2,657.2 298.2,658.0 C300.2,658.8 302.2,659.6 304.2,660.4 C306.2,661.2 308.2,662.0 310.2,662.8 C312.2,663.6 314.3,664.4 316.3,665.1 C318.3,665.9 320.3,666.7 322.3,667.6 C324.3,668.4 326.3,669.2 328.3,670.0 C330.3,670.8 332.3,671.6 334.3,672.4 C336.3,673.2 338.3,674.0 340.4,674.8 C342.4,675.7 344.4,676.5 346.4,677.3 C348.4,678.1 350.4,679.0 352.4,679.8 C354.4,680.6 356.4,681.4 358.4,682.3 C360.4,683.1 362.4,683.9 364.4,684.8 C366.5,685.6 368.5,686.4 370.5,687.3 C372.5,688.1 374.5,689.0 376.5,689.8 C378.5,690.6 380.5,691.5 382.5,692.3 C384.5,693.2 386.5,694.0 388.5,694.9 C390.5,695.7 392.5,696.6 394.6,697.4 C396.6,698.3 398.6,699.1 400.6,700.0 C402.6,700.9 404.6,701.7 406.6,702.6 C408.6,703.4 410.6,704.3 412.6,705.2 C414.6,706.0 416.6,706.9 418.6,707.7 C420.7,708.6 422.7,709.5 424.7,710.3 C426.7,711.2 428.7,712.1 430.7,712.9 C432.7,713.8 434.7,714.7 436.7,715.5 C438.7,716.4 440.7,717.3 442.7,718.1 C444.7,719.0 446.8,719.8 448.8,720.7 C450.8,721.6 452.8,722.4 454.8,723.3 C456.8,724.2 458.8,725.0 460.8,725.9 C462.8,726.8 464.8,727.6 466.8,728.5 C468.8,729.4 470.8,730.2 472.9,731.1 C474.9,732.0 476.9,732.8 478.9,733.7 C480.9,734.5 482.9,735.4 484.9,736.2 C486.9,737.1 488.9,738.0 490.9,738.8 C492.9,739.7 494.9,740.5 496.9,741.4 C499.0,742.2 501.0,743.1 503.0,743.9 C505.0,744.8 507.0,745.6 509.0,746.4 C511.0,747.3 513.0,748.1 515.0,749.0 C517.0,749.8 519.0,750.6 521.0,751.5 C523.0,752.3 525.1,753.1 527.1,753.9 C529.1,754.8 531.1,755.6 533.1,756.4 C535.1,757.2 537.1,758.0 539.1,758.8 C541.1,759.6 543.1,760.4 545.1,761.2 C547.1,762.0 549.1,762.8 551.2,763.6 C553.2,764.4 555.2,765.2 557.2,766.0 C559.2,766.8 561.2,767.6 563.2,768.3 C565.2,769.1 567.2,769.9 569.2,770.6 C571.2,771.4 573.2,772.2 575.2,772.9 C577.3,773.7 579.3,774.4 581.3,775.1 C583.3,775.9 585.3,776.6 587.3,777.3 C589.3,778.1 591.3,778.8 593.3,779.5 C595.3,780.2 597.3,780.9 599.3,781.6 C601.3,782.3 603.4,783.0 605.4,783.7 C607.4,784.4 609.4,785.1 611.4,785.7 C613.4,786.4 615.4,787.1 617.4,787.7 C619.4,788.4 621.4,789.0 623.4,789.7 C625.4,790.3 627.4,790.9 629.5,791.6 C631.5,792.2 633.5,792.8 635.5,793.4 C637.5,794.0 640.5,794.9 641.5,795.2" fill="none" stroke="#b7950f" stroke-width="3.2" stroke-linecap="round" stroke-linejoin="round"/>
<path d="M117.5,571.6 C118.5,571.9 121.5,572.8 123.5,573.4 C125.5,574.0 127.5,574.5 129.5,575.1 C131.6,575.7 133.6,576.3 135.6,576.9 C137.6,577.5 139.6,578.0 141.6,578.6 C143.6,579.2 145.6,579.8 147.6,580.4 C149.6,580.9 151.6,581.5 153.6,582.1 C155.6,582.7 157.7,583.3 159.7,583.8 C161.7,584.4 163.7,585.0 165.7,585.6 C167.7,586.2 169.7,586.7 171.7,587.3 C173.7,587.9 175.7,588.5 177.7,589.1 C179.7,589.6 181.7,590.2 183.8,590.8 C185.8,591.4 187.8,592.0 189.8,592.5 C191.8,593.1 193.8,593.7 195.8,594.3 C197.8,594.9 199.8,595.5 201.8,596.0 C203.8,596.6 205.8,597.2 207.8,597.8 C209.9,598.4 211.9,599.0 213.9,599.6 C215.9,600.2 217.9,600.8 219.9,601.4 C221.9,602.0 223.9,602.6 225.9,603.2 C227.9,603.8 229.9,604.4 231.9,605.0 C233.9,605.6 236.0,606.2 238.0,606.8 C240.0,607.4 242.0,608.0 244.0,608.6 C246.0,609.2 248.0,609.8 250.0,610.4 C252.0,611.1 254.0,611.7 256.0,612.3 C258.0,612.9 260.0,613.5 262.1,614.2 C264.1,614.8 266.1,615.4 268.1,616.1 C270.1,616.7 272.1,617.3 274.1,618.0 C276.1,618.6 278.1,619.2 280.1,619.9 C282.1,620.5 284.1,621.2 286.1,621.8 C288.2,622.5 290.2,623.1 292.2,623.8 C294.2,624.5 296.2,625.1 298.2,625.8 C300.2,626.5 302.2,627.1 304.2,627.8 C306.2,628.5 308.2,629.1 310.2,629.8 C312.2,630.5 314.3,631.2 316.3,631.9 C318.3,632.6 320.3,633.3 322.3,633.9 C324.3,634.6 326.3,635.3 328.3,636.0 C330.3,636.7 332.3,637.5 334.3,638.2 C336.3,638.9 338.3,639.6 340.4,640.3 C342.4,641.0 344.4,641.8 346.4,642.5 C348.4,643.2 350.4,643.9 352.4,644.7 C354.4,645.4 356.4,646.2 358.4,646.9 C360.4,647.6 362.4,648.4 364.4,649.2 C366.5,649.9 368.5,650.7 370.5,651.4 C372.5,652.2 374.5,652.9 376.5,653.7 C378.5,654.5 380.5,655.3 382.5,656.0 C384.5,656.8 386.5,657.6 388.5,658.4 C390.5,659.2 392.5,660.0 394.6,660.8 C396.6,661.6 398.6,662.4 400.6,663.2 C402.6,664.0 404.6,664.8 406.6,665.6 C408.6,666.4 410.6,667.2 412.6,668.0 C414.6,668.8 416.6,669.7 418.6,670.5 C420.7,671.3 422.7,672.1 424.7,673.0 C426.7,673.8 428.7,674.7 430.7,675.5 C432.7,676.3 434.7,677.2 436.7,678.0 C438.7,678.9 440.7,679.7 442.7,680.6 C444.7,681.4 446.8,682.3 448.8,683.2 C450.8,684.0 452.8,684.9 454.8,685.8 C456.8,686.6 458.8,687.5 460.8,688.4 C462.8,689.2 464.8,690.1 466.8,691.0 C468.8,691.9 470.8,692.8 472.9,693.6 C474.9,694.5 476.9,695.4 478.9,696.3 C480.9,697.2 482.9,698.1 484.9,699.0 C486.9,699.8 488.9,700.7 490.9,701.6 C492.9,702.5 494.9,703.4 496.9,704.3 C499.0,705.2 501.0,706.1 503.0,707.0 C505.0,707.9 507.0,708.8 509.0,709.7 C511.0,710.6 513.0,711.5 515.0,712.4 C517.0,713.3 519.0,714.2 521.0,715.1 C523.0,716.0 525.1,716.9 527.1,717.8 C529.1,718.7 531.1,719.6 533.1,720.5 C535.1,721.4 537.1,722.3 539.1,723.2 C541.1,724.1 543.1,725.0 545.1,725.9 C547.1,726.8 549.1,727.7 551.2,728.6 C553.2,729.4 555.2,730.3 557.2,731.2 C559.2,732.1 561.2,733.0 563.2,733.8 C565.2,734.7 567.2,735.6 569.2,736.5 C571.2,737.3 573.2,738.2 575.2,739.1 C577.3,739.9 579.3,740.8 581.3,741.6 C583.3,742.5 585.3,743.3 587.3,744.1 C589.3,745.0 591.3,745.8 593.3,746.6 C595.3,747.5 597.3,748.3 599.3,749.1 C601.3,749.9 603.4,750.7 605.4,751.5 C607.4,752.3 609.4,753.1 611.4,753.9 C613.4,754.7 615.4,755.4 617.4,756.2 C619.4,757.0 621.4,757.7 623.4,758.5 C625.4,759.2 627.4,760.0 629.5,760.7 C631.5,761.4 633.5,762.1 635.5,762.8 C637.5,763.5 640.5,764.5 641.5,764.9" fill="none" stroke="#d4504f" stroke-width="3.2" stroke-linecap="round" stroke-linejoin="round"/>
<path d="M117.5,549.5 C118.5,549.8 121.5,551.0 123.5,551.7 C125.5,552.5 127.5,553.2 129.5,554.0 C131.6,554.7 133.6,555.4 135.6,556.1 C137.6,556.9 139.6,557.6 141.6,558.3 C143.6,559.0 145.6,559.7 147.6,560.4 C149.6,561.1 151.6,561.8 153.6,562.5 C155.6,563.2 157.7,563.9 159.7,564.6 C161.7,565.3 163.7,566.0 165.7,566.7 C167.7,567.4 169.7,568.0 171.7,568.7 C173.7,569.4 175.7,570.1 177.7,570.7 C179.7,571.4 181.7,572.1 183.8,572.7 C185.8,573.4 187.8,574.1 189.8,574.7 C191.8,575.4 193.8,576.0 195.8,576.7 C197.8,577.3 199.8,578.0 201.8,578.6 C203.8,579.3 205.8,579.9 207.8,580.6 C209.9,581.2 211.9,581.9 213.9,582.5 C215.9,583.2 217.9,583.8 219.9,584.4 C221.9,585.1 223.9,585.7 225.9,586.4 C227.9,587.0 229.9,587.6 231.9,588.3 C233.9,588.9 236.0,589.6 238.0,590.2 C240.0,590.8 242.0,591.5 244.0,592.1 C246.0,592.8 248.0,593.4 250.0,594.0 C252.0,594.7 254.0,595.3 256.0,596.0 C258.0,596.6 260.0,597.2 262.1,597.9 C264.1,598.5 266.1,599.2 268.1,599.8 C270.1,600.5 272.1,601.1 274.1,601.8 C276.1,602.4 278.1,603.1 280.1,603.7 C282.1,604.4 284.1,605.0 286.1,605.7 C288.2,606.3 290.2,607.0 292.2,607.6 C294.2,608.3 296.2,609.0 298.2,609.6 C300.2,610.3 302.2,610.9 304.2,611.6 C306.2,612.3 308.2,612.9 310.2,613.6 C312.2,614.3 314.3,615.0 316.3,615.6 C318.3,616.3 320.3,617.0 322.3,617.7 C324.3,618.4 326.3,619.0 328.3,619.7 C330.3,620.4 332.3,621.1 334.3,621.8 C336.3,622.5 338.3,623.2 340.4,623.9 C342.4,624.6 344.4,625.3 346.4,626.0 C348.4,626.7 350.4,627.5 352.4,628.2 C354.4,628.9 356.4,629.6 358.4,630.3 C360.4,631.1 362.4,631.8 364.4,632.5 C366.5,633.2 368.5,634.0 370.5,634.7 C372.5,635.5 374.5,636.2 376.5,636.9 C378.5,637.7 380.5,638.4 382.5,639.2 C384.5,640.0 386.5,640.7 388.5,641.5 C390.5,642.2 392.5,643.0 394.6,643.8 C396.6,644.6 398.6,645.3 400.6,646.1 C402.6,646.9 404.6,647.7 406.6,648.5 C408.6,649.2 410.6,650.0 412.6,650.8 C414.6,651.6 416.6,652.4 418.6,653.2 C420.7,654.0 422.7,654.8 424.7,655.7 C426.7,656.5 428.7,657.3 430.7,658.1 C432.7,658.9 434.7,659.8 436.7,660.6 C438.7,661.4 440.7,662.2 442.7,663.1 C444.7,663.9 446.8,664.8 448.8,665.6 C450.8,666.4 452.8,667.3 454.8,668.1 C456.8,669.0 458.8,669.9 460.8,670.7 C462.8,671.6 464.8,672.4 466.8,673.3 C468.8,674.2 470.8,675.0 472.9,675.9 C474.9,676.8 476.9,677.7 478.9,678.5 C480.9,679.4 482.9,680.3 484.9,681.2 C486.9,682.1 488.9,683.0 490.9,683.8 C492.9,684.7 494.9,685.6 496.9,686.5 C499.0,687.4 501.0,688.3 503.0,689.2 C505.0,690.1 507.0,691.0 509.0,691.9 C511.0,692.8 513.0,693.7 515.0,694.6 C517.0,695.6 519.0,696.5 521.0,697.4 C523.0,698.3 525.1,699.2 527.1,700.1 C529.1,701.0 531.1,701.9 533.1,702.9 C535.1,703.8 537.1,704.7 539.1,705.6 C541.1,706.5 543.1,707.4 545.1,708.4 C547.1,709.3 549.1,710.2 551.2,711.1 C553.2,712.0 555.2,712.9 557.2,713.8 C559.2,714.8 561.2,715.7 563.2,716.6 C565.2,717.5 567.2,718.4 569.2,719.3 C571.2,720.2 573.2,721.1 575.2,722.1 C577.3,723.0 579.3,723.9 581.3,724.8 C583.3,725.7 585.3,726.6 587.3,727.5 C589.3,728.4 591.3,729.3 593.3,730.1 C595.3,731.0 597.3,731.9 599.3,732.8 C601.3,733.7 603.4,734.6 605.4,735.4 C607.4,736.3 609.4,737.2 611.4,738.0 C613.4,738.9 615.4,739.7 617.4,740.6 C619.4,741.4 621.4,742.3 623.4,743.1 C625.4,744.0 627.4,744.8 629.5,745.6 C631.5,746.4 633.5,747.3 635.5,748.1 C637.5,748.9 640.5,750.1 641.5,750.5" fill="none" stroke="#0000ff" stroke-width="3.2" stroke-linecap="round" stroke-linejoin="round"/>
<path d="M117.5,577.2 C117.9,577.4 118.9,577.7 120.0,578.1 C121.1,578.5 122.6,579.3 124.0,579.9 C125.4,580.5 126.8,580.9 128.6,581.4 C130.4,582.0 132.6,582.6 134.6,583.2 C136.6,583.7 138.7,584.3 140.7,584.9 C142.7,585.4 144.7,586.0 146.7,586.6 C148.7,587.1 150.7,587.7 152.7,588.3 C154.7,588.8 156.8,589.4 158.8,590.0 C160.8,590.5 162.8,591.1 164.8,591.6 C166.8,592.2 168.8,592.8 170.8,593.3 C172.9,593.9 174.9,594.4 176.9,595.0 C178.9,595.6 180.9,596.1 182.9,596.7 C184.9,597.2 186.9,597.8 188.9,598.3 C191.0,598.9 193.0,599.5 195.0,600.0 C197.0,600.6 199.0,601.2 201.0,601.7 C203.0,602.3 205.0,602.9 207.0,603.4 C209.1,604.0 211.1,604.6 213.1,605.1 C215.1,605.7 217.1,606.3 219.1,606.8 C221.1,607.4 223.1,608.0 225.1,608.6 C227.2,609.2 229.2,609.7 231.2,610.3 C233.2,610.9 235.2,611.5 237.2,612.1 C239.2,612.7 241.2,613.3 243.2,613.9 C245.3,614.4 247.3,615.0 249.3,615.6 C251.3,616.2 253.3,616.8 255.3,617.5 C257.3,618.1 259.3,618.7 261.4,619.3 C263.4,619.9 265.4,620.5 267.4,621.1 C269.4,621.8 271.4,622.4 273.4,623.0 C275.4,623.6 277.4,624.3 279.5,624.9 C281.5,625.5 283.5,626.2 285.5,626.8 C287.5,627.5 289.5,628.1 291.5,628.8 C293.5,629.4 295.5,630.1 297.6,630.7 C299.6,631.4 301.6,632.0 303.6,632.7 C305.6,633.4 307.6,634.1 309.6,634.7 C311.6,635.4 313.6,636.1 315.7,636.8 C317.7,637.4 319.7,638.1 321.7,638.8 C323.7,639.5 325.7,640.2 327.7,640.9 C329.7,641.6 331.7,642.3 333.8,643.0 C335.8,643.7 337.8,644.5 339.8,645.2 C341.8,645.9 343.8,646.6 345.8,647.3 C347.8,648.1 349.9,648.8 351.9,649.5 C353.9,650.3 355.9,651.0 357.9,651.8 C359.9,652.5 361.9,653.2 363.9,654.0 C365.9,654.7 368.0,655.5 370.0,656.3 C372.0,657.0 374.0,657.8 376.0,658.6 C378.0,659.3 380.0,660.1 382.0,660.9 C384.0,661.7 386.1,662.4 388.1,663.2 C390.1,664.0 392.1,664.8 394.1,665.6 C396.1,666.4 398.1,667.2 400.1,668.0 C402.1,668.8 404.2,669.6 406.2,670.4 C408.2,671.2 410.2,672.0 412.2,672.8 C414.2,673.6 416.2,674.5 418.2,675.3 C420.2,676.1 422.3,676.9 424.3,677.8 C426.3,678.6 428.3,679.4 430.3,680.2 C432.3,681.1 434.3,681.9 436.3,682.8 C438.4,683.6 440.4,684.4 442.4,685.3 C444.4,686.1 446.4,687.0 448.4,687.8 C450.4,688.7 452.4,689.5 454.4,690.4 C456.5,691.2 458.5,692.1 460.5,693.0 C462.5,693.8 464.5,694.7 466.5,695.6 C468.5,696.4 470.5,697.3 472.5,698.2 C474.6,699.0 476.6,699.9 478.6,700.8 C480.6,701.6 482.6,702.5 484.6,703.4 C486.6,704.3 488.6,705.1 490.6,706.0 C492.7,706.9 494.7,707.8 496.7,708.6 C498.7,709.5 500.7,710.4 502.7,711.3 C504.7,712.2 506.7,713.0 508.7,713.9 C510.8,714.8 512.8,715.7 514.8,716.6 C516.8,717.4 518.8,718.3 520.8,719.2 C522.8,720.1 524.8,721.0 526.9,721.8 C528.9,722.7 530.9,723.6 532.9,724.5 C534.9,725.3 536.9,726.2 538.9,727.1 C540.9,728.0 542.9,728.8 545.0,729.7 C547.0,730.6 549.0,731.5 551.0,732.3 C553.0,733.2 555.0,734.1 557.0,734.9 C559.0,735.8 561.0,736.7 563.1,737.5 C565.1,738.4 567.1,739.2 569.1,740.1 C571.1,740.9 573.1,741.8 575.1,742.6 C577.1,743.5 579.1,744.3 581.2,745.2 C583.2,746.0 585.2,746.8 587.2,747.7 C589.2,748.5 591.2,749.3 593.2,750.2 C595.2,751.0 597.2,751.8 599.3,752.6 C601.3,753.4 603.3,754.2 605.3,755.0 C607.3,755.8 609.3,756.6 611.3,757.4 C613.3,758.2 615.4,759.0 617.4,759.8 C619.4,760.6 621.4,761.4 623.4,762.1 C625.4,762.9 627.4,763.7 629.4,764.4 C631.4,765.2 633.5,765.9 635.5,766.7 C637.5,767.4 640.5,768.5 641.5,768.9" fill="none" stroke="#007d00" stroke-width="3.2" stroke-linecap="round" stroke-linejoin="round"/>
<path d="M57.5,521.60 L57.5,908.8 L666.0,908.8 L666.0,522.20" fill="none" stroke="#000" stroke-width="2.2" stroke-linejoin="miter"/>
<line x1="56.4" y1="522.75" x2="329.3" y2="522.75" stroke="#000" stroke-width="2.3"/>
<line x1="329.3" y1="523.1" x2="667.1" y2="523.1" stroke="#000" stroke-width="1.8"/>
<line x1="51.0" y1="908.80" x2="57.5" y2="908.80" stroke="#000" stroke-width="2.0"/>
<text x="47.3" y="913.6" font-family='"Liberation Serif", serif' font-size="14.4" text-anchor="end" font-weight="bold">−1.5</text>
<line x1="51.0" y1="879.15" x2="57.5" y2="879.15" stroke="#000" stroke-width="2.0"/>
<text x="47.3" y="883.95" font-family='"Liberation Serif", serif' font-size="14.4" text-anchor="end" font-weight="bold">−1.0</text>
<line x1="51.0" y1="849.49" x2="57.5" y2="849.49" stroke="#000" stroke-width="2.0"/>
<text x="47.3" y="854.29" font-family='"Liberation Serif", serif' font-size="14.4" text-anchor="end" font-weight="bold">−0.5</text>
<line x1="51.0" y1="819.84" x2="57.5" y2="819.84" stroke="#000" stroke-width="2.0"/>
<text x="47.3" y="824.64" font-family='"Liberation Serif", serif' font-size="14.4" text-anchor="end" font-weight="bold">0.0</text>
<line x1="51.0" y1="790.18" x2="57.5" y2="790.18" stroke="#000" stroke-width="2.0"/>
<text x="47.3" y="794.98" font-family='"Liberation Serif", serif' font-size="14.4" text-anchor="end" font-weight="bold">0.5</text>
<line x1="51.0" y1="760.53" x2="57.5" y2="760.53" stroke="#000" stroke-width="2.0"/>
<text x="47.3" y="765.33" font-family='"Liberation Serif", serif' font-size="14.4" text-anchor="end" font-weight="bold">1.0</text>
<line x1="51.0" y1="730.88" x2="57.5" y2="730.88" stroke="#000" stroke-width="2.0"/>
<text x="47.3" y="735.68" font-family='"Liberation Serif", serif' font-size="14.4" text-anchor="end" font-weight="bold">1.5</text>
<line x1="51.0" y1="701.22" x2="57.5" y2="701.22" stroke="#000" stroke-width="2.0"/>
<text x="47.3" y="706.02" font-family='"Liberation Serif", serif' font-size="14.4" text-anchor="end" font-weight="bold">2.0</text>
<line x1="51.0" y1="671.57" x2="57.5" y2="671.57" stroke="#000" stroke-width="2.0"/>
<text x="47.3" y="676.37" font-family='"Liberation Serif", serif' font-size="14.4" text-anchor="end" font-weight="bold">2.5</text>
<line x1="51.0" y1="641.92" x2="57.5" y2="641.92" stroke="#000" stroke-width="2.0"/>
<text x="47.3" y="646.72" font-family='"Liberation Serif", serif' font-size="14.4" text-anchor="end" font-weight="bold">3.0</text>
<line x1="51.0" y1="612.26" x2="57.5" y2="612.26" stroke="#000" stroke-width="2.0"/>
<text x="47.3" y="617.06" font-family='"Liberation Serif", serif' font-size="14.4" text-anchor="end" font-weight="bold">3.5</text>
<line x1="51.0" y1="582.61" x2="57.5" y2="582.61" stroke="#000" stroke-width="2.0"/>
<text x="47.3" y="587.41" font-family='"Liberation Serif", serif' font-size="14.4" text-anchor="end" font-weight="bold">4.0</text>
<line x1="51.0" y1="552.95" x2="57.5" y2="552.95" stroke="#000" stroke-width="2.0"/>
<text x="47.3" y="557.75" font-family='"Liberation Serif", serif' font-size="14.4" text-anchor="end" font-weight="bold">4.5</text>
<line x1="51.0" y1="523.30" x2="57.5" y2="523.30" stroke="#000" stroke-width="2.0"/>
<text x="47.3" y="528.1" font-family='"Liberation Serif", serif' font-size="14.4" text-anchor="end" font-weight="bold">5.0</text>
<line x1="57.50" y1="908.8" x2="57.50" y2="915.3" stroke="#000" stroke-width="2.0"/>
<text x="57.5" y="930.8" font-family='"Liberation Serif", serif' font-size="14.1" text-anchor="middle" font-weight="bold">1.5</text>
<line x1="118.35" y1="908.8" x2="118.35" y2="915.3" stroke="#000" stroke-width="2.0"/>
<text x="118.35" y="930.8" font-family='"Liberation Serif", serif' font-size="14.1" text-anchor="middle" font-weight="bold">2.0</text>
<line x1="179.20" y1="908.8" x2="179.20" y2="915.3" stroke="#000" stroke-width="2.0"/>
<text x="179.2" y="930.8" font-family='"Liberation Serif", serif' font-size="14.1" text-anchor="middle" font-weight="bold">2.5</text>
<line x1="240.05" y1="908.8" x2="240.05" y2="915.3" stroke="#000" stroke-width="2.0"/>
<text x="240.05" y="930.8" font-family='"Liberation Serif", serif' font-size="14.1" text-anchor="middle" font-weight="bold">3.0</text>
<line x1="300.90" y1="908.8" x2="300.90" y2="915.3" stroke="#000" stroke-width="2.0"/>
<text x="300.9" y="930.8" font-family='"Liberation Serif", serif' font-size="14.1" text-anchor="middle" font-weight="bold">3.5</text>
<line x1="361.75" y1="908.8" x2="361.75" y2="915.3" stroke="#000" stroke-width="2.0"/>
<text x="361.75" y="930.8" font-family='"Liberation Serif", serif' font-size="14.1" text-anchor="middle" font-weight="bold">4.0</text>
<line x1="422.60" y1="908.8" x2="422.60" y2="915.3" stroke="#000" stroke-width="2.0"/>
<text x="422.6" y="930.8" font-family='"Liberation Serif", serif' font-size="14.1" text-anchor="middle" font-weight="bold">4.5</text>
<line x1="483.45" y1="908.8" x2="483.45" y2="915.3" stroke="#000" stroke-width="2.0"/>
<text x="483.45" y="930.8" font-family='"Liberation Serif", serif' font-size="14.1" text-anchor="middle" font-weight="bold">5.0</text>
<line x1="544.30" y1="908.8" x2="544.30" y2="915.3" stroke="#000" stroke-width="2.0"/>
<text x="544.3" y="930.8" font-family='"Liberation Serif", serif' font-size="14.1" text-anchor="middle" font-weight="bold">5.5</text>
<line x1="605.15" y1="908.8" x2="605.15" y2="915.3" stroke="#000" stroke-width="2.0"/>
<text x="605.15" y="930.8" font-family='"Liberation Serif", serif' font-size="14.1" text-anchor="middle" font-weight="bold">6.0</text>
<line x1="666.00" y1="908.8" x2="666.00" y2="915.3" stroke="#000" stroke-width="2.0"/>
<text x="666.0" y="930.8" font-family='"Liberation Serif", serif' font-size="14.1" text-anchor="middle" font-weight="bold">6.5</text>
<text x="14" y="716.5" font-family='"Liberation Serif", serif' font-size="18.3" text-anchor="middle" transform="rotate(-90 14 716.5)">Log(ε”)</text>
<text x="361.5" y="958.4" font-family='"Liberation Serif", serif' font-size="18" text-anchor="middle">Log(f)</text>
<line x1="544.1" y1="534.8" x2="575.7" y2="534.8" stroke="#7d0a0a" stroke-width="3"/>
<text x="579.7" y="539.7" font-family='"Liberation Serif", serif' font-size="13.8" text-anchor="start">CGNHSCN8</text>
<line x1="544.1" y1="552.2" x2="575.7" y2="552.2" stroke="#f808fc" stroke-width="3"/>
<text x="579.7" y="557.1" font-family='"Liberation Serif", serif' font-size="13.8" text-anchor="start">CGNHSCN16</text>
<line x1="544.1" y1="569.5" x2="575.7" y2="569.5" stroke="#b7950f" stroke-width="3"/>
<text x="579.7" y="574.4" font-family='"Liberation Serif", serif' font-size="13.8" text-anchor="start">CGNHSCN24</text>
<line x1="544.1" y1="586.9" x2="575.7" y2="586.9" stroke="#d4504f" stroke-width="3"/>
<text x="579.7" y="591.8" font-family='"Liberation Serif", serif' font-size="13.8" text-anchor="start">CGNHSCN32</text>
<line x1="544.1" y1="604.2" x2="575.7" y2="604.2" stroke="#0000ff" stroke-width="3"/>
<text x="579.7" y="609.1" font-family='"Liberation Serif", serif' font-size="13.8" text-anchor="start">CGNHSCN40</text>
<line x1="544.1" y1="621.6" x2="575.7" y2="621.6" stroke="#007d00" stroke-width="3"/>
<text x="579.7" y="626.5" font-family='"Liberation Serif", serif' font-size="13.8" text-anchor="start">CGNHSCN48</text>
<text x="575.8" y="651.8" font-family='"Liberation Serif", serif' font-size="14.0" text-anchor="middle">Low Energy Losses Due to</text>
<text x="575.6" y="669.2" font-family='"Liberation Serif", serif' font-size="14.0" text-anchor="middle">Electrolyte (Bulk) Polarization</text>
<line x1="493.2" y1="676.4" x2="654.0" y2="676.4" stroke="#ff0000" stroke-width="1.4" stroke-dasharray="6.0 4.2" stroke-dashoffset="0"/>
<polygon points="484.6,676.4 497.4,672.0 493.2,676.4 497.4,680.8" fill="#ff0000"/>
<polygon points="662.6,676.4 649.8,680.8 654.0,676.4 649.8,672.0" fill="#ff0000"/>
<text x="238.0" y="874.5" font-family='"Liberation Serif", serif' font-size="14.0" text-anchor="middle">High Energy Losses Due to</text>
<text x="238.0" y="891.5" font-family='"Liberation Serif", serif' font-size="14.0" text-anchor="middle">Electrode/Electrolyte Interface Polarization</text>
<line x1="78.2" y1="847.3" x2="469.9" y2="847.3" stroke="#ff0000" stroke-width="1.4" stroke-dasharray="7.0 4.8" stroke-dashoffset="0"/>
<polygon points="63.2,847.3 76.0,842.9 71.8,847.3 76.0,851.7" fill="#ff0000"/>
<polygon points="478.5,847.3 465.7,851.7 469.9,847.3 465.7,842.9" fill="#ff0000"/>
</g>
<g id="chart-c">
<text x="352.7" y="1014.9" font-family='"Liberation Sans", sans-serif' font-size="23" text-anchor="middle">(c)</text>
<line x1="133.2" y1="1457.0" x2="504.8" y2="1145.6" stroke="#ff0000" stroke-width="2.0" stroke-dasharray="11 7.2" stroke-dashoffset="0"/>
<polygon points="514.8,1137.2 503.8,1152.9 504.8,1145.6 497.4,1145.3" fill="#ff0000"/>
<line x1="536.5" y1="1506.0" x2="536.5" y2="1157.2" stroke="#ff0000" stroke-width="2.3" stroke-dasharray="9.4 8.8" stroke-dashoffset="3"/>
<polygon points="536.5,1144.2 541.5,1162.7 536.5,1157.2 531.5,1162.7" fill="#ff0000"/>
<line x1="569.5" y1="1144.5" x2="646.8" y2="1288.4" stroke="#ff0000" stroke-width="2.0" stroke-dasharray="11 7.2" stroke-dashoffset="0"/>
<polygon points="653.0,1299.8 639.8,1285.9 646.8,1288.4 648.6,1281.1" fill="#ff0000"/>
<path d="M148.3,1496.0 L245.0,1485.0 L342.5,1450.5 L439.5,1336.5 L536.9,1129.8 L634.0,1366.5" fill="none" stroke="#0000ff" stroke-width="5.0" stroke-linejoin="miter" stroke-linecap="butt"/>
<rect x="141.55" y="1489.25" width="13.5" height="13.5" fill="#ff0000"/>
<rect x="238.25" y="1478.25" width="13.5" height="13.5" fill="#ff0000"/>
<rect x="335.75" y="1443.75" width="13.5" height="13.5" fill="#ff0000"/>
<rect x="432.75" y="1329.75" width="13.5" height="13.5" fill="#ff0000"/>
<rect x="530.15" y="1123.05" width="13.5" height="13.5" fill="#ff0000"/>
<rect x="627.25" y="1359.75" width="13.5" height="13.5" fill="#ff0000"/>
<path d="M99.9,1037.20 L99.9,1506.9 L682.7,1506.9 L682.7,1037.60" fill="none" stroke="#000" stroke-width="2.5" stroke-linejoin="miter"/>
<line x1="98.65" y1="1038.4" x2="339.3" y2="1038.4" stroke="#000" stroke-width="2.4"/>
<line x1="339.3" y1="1038.9" x2="683.95" y2="1038.9" stroke="#000" stroke-width="2.6"/>
<line x1="90.30000000000001" y1="1496.10" x2="99.9" y2="1496.10" stroke="#000" stroke-width="2.3"/>
<text x="83.8" y="1501.3" font-family='"Liberation Serif", serif' font-size="15.5" text-anchor="end" font-weight="bold">0</text>
<line x1="90.30000000000001" y1="1419.83" x2="99.9" y2="1419.83" stroke="#000" stroke-width="2.3"/>
<text x="83.8" y="1425.03" font-family='"Liberation Serif", serif' font-size="15.5" text-anchor="end" font-weight="bold">5000</text>
<line x1="90.30000000000001" y1="1343.56" x2="99.9" y2="1343.56" stroke="#000" stroke-width="2.3"/>
<text x="83.8" y="1348.76" font-family='"Liberation Serif", serif' font-size="15.5" text-anchor="end" font-weight="bold">10000</text>
<line x1="90.30000000000001" y1="1267.29" x2="99.9" y2="1267.29" stroke="#000" stroke-width="2.3"/>
<text x="83.8" y="1272.49" font-family='"Liberation Serif", serif' font-size="15.5" text-anchor="end" font-weight="bold">15000</text>
<line x1="90.30000000000001" y1="1191.02" x2="99.9" y2="1191.02" stroke="#000" stroke-width="2.3"/>
<text x="83.8" y="1196.22" font-family='"Liberation Serif", serif' font-size="15.5" text-anchor="end" font-weight="bold">20000</text>
<line x1="90.30000000000001" y1="1114.75" x2="99.9" y2="1114.75" stroke="#000" stroke-width="2.3"/>
<text x="83.8" y="1119.95" font-family='"Liberation Serif", serif' font-size="15.5" text-anchor="end" font-weight="bold">25000</text>
<line x1="90.30000000000001" y1="1038.48" x2="99.9" y2="1038.48" stroke="#000" stroke-width="2.3"/>
<text x="83.8" y="1043.68" font-family='"Liberation Serif", serif' font-size="15.5" text-anchor="end" font-weight="bold">30000</text>
<line x1="148.30" y1="1506.9" x2="148.30" y2="1516.5" stroke="#000" stroke-width="2.3"/>
<text x="148.3" y="1535" font-family='"Liberation Serif", serif' font-size="15.5" text-anchor="middle" font-weight="bold">1</text>
<line x1="245.38" y1="1506.9" x2="245.38" y2="1516.5" stroke="#000" stroke-width="2.3"/>
<text x="245.38" y="1535" font-family='"Liberation Serif", serif' font-size="15.5" text-anchor="middle" font-weight="bold">2</text>
<line x1="342.46" y1="1506.9" x2="342.46" y2="1516.5" stroke="#000" stroke-width="2.3"/>
<text x="342.46" y="1535" font-family='"Liberation Serif", serif' font-size="15.5" text-anchor="middle" font-weight="bold">3</text>
<line x1="439.54" y1="1506.9" x2="439.54" y2="1516.5" stroke="#000" stroke-width="2.3"/>
<text x="439.54" y="1535" font-family='"Liberation Serif", serif' font-size="15.5" text-anchor="middle" font-weight="bold">4</text>
<line x1="536.62" y1="1506.9" x2="536.62" y2="1516.5" stroke="#000" stroke-width="2.3"/>
<text x="536.62" y="1535" font-family='"Liberation Serif", serif' font-size="15.5" text-anchor="middle" font-weight="bold">5</text>
<line x1="633.70" y1="1506.9" x2="633.70" y2="1516.5" stroke="#000" stroke-width="2.3"/>
<text x="633.7" y="1535" font-family='"Liberation Serif", serif' font-size="15.5" text-anchor="middle" font-weight="bold">6</text>
<text x="28.2" y="1276.8" font-family='"Liberation Serif", serif' font-size="19.7" text-anchor="middle" transform="rotate(-90 28.2 1276.8)">Dielectric Constant Peaks Intensity</text>
<text x="390.5" y="1567.5" font-family='"Liberation Serif", serif' font-size="20.25" text-anchor="middle">Salt Concentration (W.t. %)</text>
<line x1="107.4" y1="1056" x2="142.8" y2="1056" stroke="#0000ff" stroke-width="5"/>
<rect x="118.2" y="1049.3" width="13.8" height="13.5" fill="#ff0000"/>
<text x="146.9" y="1061.7" font-family='"Liberation Serif", serif' font-size="15.5" text-anchor="start">Dielectric Constant Peaks Intensity</text>
<text x="550.3" y="1091.9" font-family='"Liberation Serif", serif' font-size="15.5" text-anchor="start" font-weight="bold">Saturation Region</text>
<text x="539.8" y="1118.3" font-family='"Liberation Serif", serif' font-size="18.2" text-anchor="middle" font-weight="bold" letter-spacing="0.6">40%</text>
<text x="414.6" y="1323.8" font-family='"Liberation Serif", serif' font-size="18.2" text-anchor="middle" font-weight="bold" letter-spacing="0.6">32%</text>
<text x="636" y="1395.8" font-family='"Liberation Serif", serif' font-size="18.2" text-anchor="middle" font-weight="bold" letter-spacing="0.6">48%</text>
<text x="317.8" y="1436.8" font-family='"Liberation Serif", serif' font-size="18.2" text-anchor="middle" font-weight="bold" letter-spacing="0.6">24%</text>
<text x="245.1" y="1464.3" font-family='"Liberation Serif", serif' font-size="18.2" text-anchor="middle" font-weight="bold" letter-spacing="0.6">16%</text>
<text x="152.8" y="1474.3" font-family='"Liberation Serif", serif' font-size="18.2" text-anchor="middle" font-weight="bold" letter-spacing="0.6">8%</text>
</g>
</svg>
</body></html>
